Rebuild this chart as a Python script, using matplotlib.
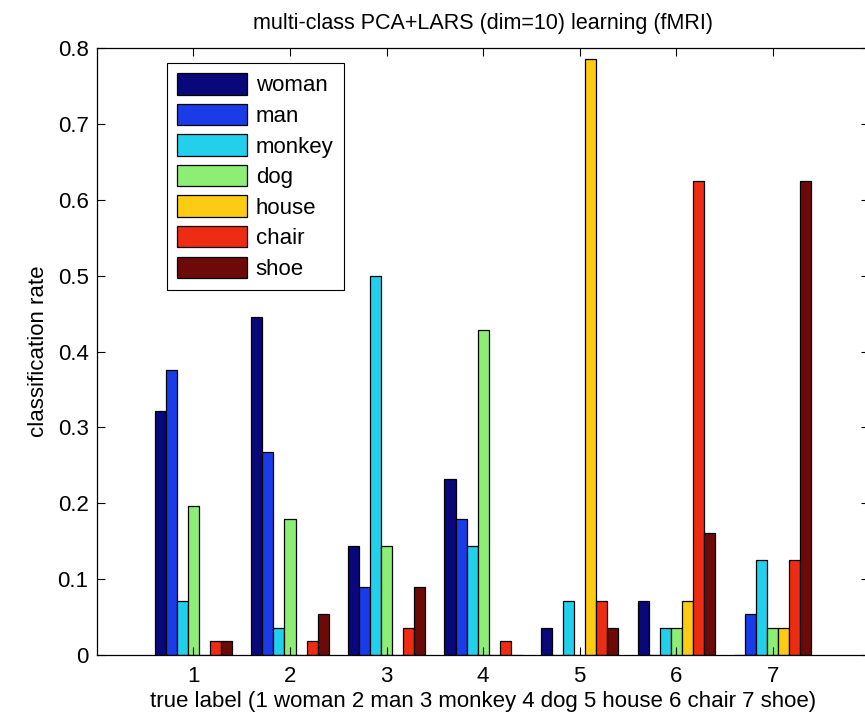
import numpy as np
import matplotlib
matplotlib.use('Agg')
import matplotlib.pyplot as plt

plt.rcParams['font.family'] = ['Liberation Sans', 'DejaVu Sans']

# classification rates per true label (rows) and predicted class (columns)
classes = ['woman', 'man', 'monkey', 'dog', 'house', 'chair', 'shoe']
groups = [1, 2, 3, 4, 5, 6, 7]
woman = [0.321, 0.446, 0.143, 0.232, 0.036, 0.071, 0.0]
man = [0.375, 0.268, 0.089, 0.179, 0.0, 0.0, 0.054]
monkey = [0.071, 0.036, 0.500, 0.143, 0.071, 0.036, 0.125]
dog = [0.196, 0.179, 0.143, 0.429, 0.0, 0.036, 0.036]
house = [0.0, 0.0, 0.0, 0.0, 0.786, 0.071, 0.036]
chair = [0.018, 0.018, 0.036, 0.018, 0.071, 0.625, 0.125]
shoe = [0.018, 0.054, 0.089, 0.0, 0.036, 0.161, 0.625]
series = [woman, man, monkey, dog, house, chair, shoe]
colors = ['#08087a', '#1a3ce8', '#22d0ec', '#8cee74', '#fccc14', '#ee2c14', '#6c0a0a']

fig = plt.figure(figsize=(8.65, 7.2), dpi=100)
ax = fig.add_axes([0.112, 0.0903, 0.893, 0.843])

w = 0.8 / len(series)
x = np.array(groups, dtype=float)
for i, vals in enumerate(series):
    ax.bar(x + (i - 3) * w, vals, width=w, color=colors[i], edgecolor='black',
           linewidth=0.9, label=classes[i])

ax.set_xlim(0, 8)
ax.set_ylim(0, 0.8)
ax.set_xticks(groups)
ax.set_yticks(np.arange(0, 0.81, 0.1))
ax.set_yticklabels(['0', '0.1', '0.2', '0.3', '0.4', '0.5', '0.6', '0.7', '0.8'])
ax.tick_params(direction='in', length=6, width=0.8, top=True, right=True,
               labelsize=16)
ax.tick_params(axis='y', pad=6)
ax.tick_params(axis='x', pad=8)
for s in ax.spines.values():
    s.set_linewidth(0.9)

ax.set_title('multi-class PCA+LARS (dim=10) learning (fMRI)', fontsize=15.5, pad=14)
ax.set_xlabel('true label (1 woman 2 man 3 monkey 4 dog 5 house 6 chair 7 shoe)',
              fontsize=16, labelpad=3)
ax.set_ylabel('classification rate', fontsize=16, labelpad=6)

leg = ax.legend(loc='upper left', bbox_to_anchor=(0.0907, 0.975), borderaxespad=0,
                fontsize=16, handlelength=3.15, handleheight=1.1, labelspacing=0.33,
                handletextpad=0.4, borderpad=0.45, fancybox=False, framealpha=1,
                edgecolor='black')
leg.get_frame().set_linewidth(0.8)

fig.savefig('out.png', dpi=100)
